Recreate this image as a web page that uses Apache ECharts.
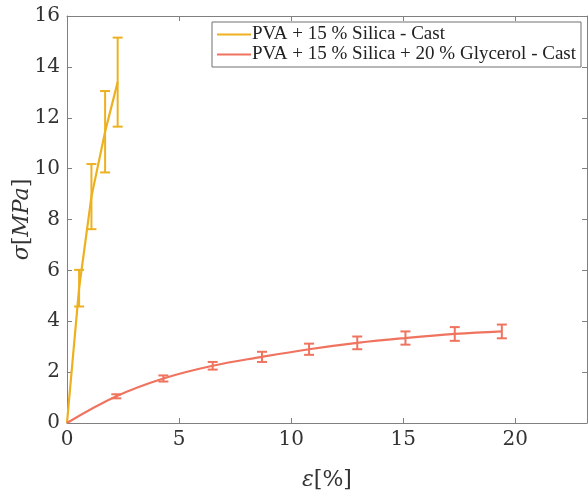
<!DOCTYPE html>
<html>
<head>
<meta charset="utf-8">
<script src="https://cdn.jsdelivr.net/npm/echarts@6/dist/echarts.min.js"></script>
<style>
  html, body { margin: 0; padding: 0; background: #fff; }
  #chart { width: 588px; height: 491px; }
</style>
</head>
<body>
<div id="chart"></div>
<script>
const nameCast = 'PVA + 15 % Silica - Cast'
const nameGly = 'PVA + 15 % Silica + 20 % Glycerol - Cast'
// strain [%], stress [MPa], error [MPa]
const castX = [0, 0.54, 1.09, 1.7, 2.26]
const castY = [0, 5.3, 8.9, 11.45, 13.4]
const castErr = [0, 0.72, 1.28, 1.6, 1.75]
const glyX = [0, 2.2, 4.3, 6.5, 8.7, 10.8, 12.95, 15.1, 17.3, 19.4]
const glyY = [0, 1.05, 1.75, 2.25, 2.6, 2.9, 3.15, 3.34, 3.5, 3.6]
const glyErr = [0, 0.08, 0.12, 0.15, 0.2, 0.22, 0.25, 0.26, 0.27, 0.27]
const xTicks = [0, 5, 10, 15, 20]
const yTicks = [0, 2, 4, 6, 8, 10, 12, 14, 16]

const yellow = '#edb120'
const red = '#ef735f'
const font = 'DejaVu Serif'
const legendFont = 'Liberation Serif'

const chart = echarts.init(document.getElementById('chart'))

function pairs(xs, ys) {
  return xs.map((x, i) => [x, ys[i]])
}
function errData(xs, ys, es) {
  const out = []
  xs.forEach((x, i) => {
    if (es[i] > 0) out.push([x, ys[i] - es[i], ys[i] + es[i]])
  })
  return out
}
function errSeries(data, color) {
  return {
    type: 'custom',
    xAxisIndex: 0,
    yAxisIndex: 0,
    data: data,
    z: 3,
    renderItem(params, api) {
      const lo = api.coord([api.value(0), api.value(1)])
      const hi = api.coord([api.value(0), api.value(2)])
      const w = 5
      const style = { stroke: color, lineWidth: 2 }
      return {
        type: 'group',
        children: [
          { type: 'line', shape: { x1: lo[0], y1: lo[1], x2: hi[0], y2: hi[1] }, style },
          { type: 'line', shape: { x1: lo[0] - w, y1: lo[1], x2: lo[0] + w, y2: lo[1] }, style },
          { type: 'line', shape: { x1: hi[0] - w, y1: hi[1], x2: hi[0] + w, y2: hi[1] }, style }
        ]
      }
    }
  }
}

const axisCommon = {
  axisLine: { show: true, onZero: false, lineStyle: { color: '#808080', width: 1 } },
  axisTick: { show: true, inside: true, length: 5, lineStyle: { color: '#808080' } },
  splitLine: { show: false }
}
const nameRich = {
  it: { fontFamily: font, fontSize: 22, fontStyle: 'italic', color: '#333' },
  up: { fontFamily: font, fontSize: 22, color: '#333' }
}

const option = {
  animation: false,
  grid: { left: 67, right: 1, top: 16, bottom: 68, outerBoundsMode: 'none' },
  legend: {
    orient: 'vertical',
    left: 212,
    top: 22,
    padding: [3, 5, 3, 5],
    itemGap: 1,
    itemWidth: 34,
    itemHeight: 2,
    borderColor: '#707070',
    borderWidth: 1,
    backgroundColor: '#fff',
    data: [
      { name: nameCast, icon: 'rect' },
      { name: nameGly, icon: 'rect' }
    ],
    textStyle: { fontFamily: legendFont, fontSize: 19, color: '#222', padding: [0, 0, 0, -4] }
  },
  xAxis: [
    Object.assign({
      type: 'value', min: 0, max: 23.2, interval: 5,
      name: '{it|ε}{up|[%]}', nameLocation: 'middle', nameGap: 46, nameMoveOverlap: false,
      nameTextStyle: { rich: nameRich },
      axisLabel: {
        fontFamily: font, fontSize: 20, color: '#333', margin: 7,
        formatter: v => (xTicks.includes(v) ? String(v) : '')
      }
    }, axisCommon),
    Object.assign({
      type: 'value', min: 0, max: 23.2, interval: 5, position: 'top',
      axisLabel: { show: false }
    }, axisCommon)
  ],
  yAxis: [
    Object.assign({
      type: 'value', min: 0, max: 16, interval: 2,
      name: '{it|σ}{up|[}{it|MPa}{up|]}', nameLocation: 'middle', nameGap: 34, nameRotate: 90,
      nameMoveOverlap: false,
      nameTextStyle: { rich: nameRich },
      axisLabel: {
        fontFamily: font, fontSize: 20, color: '#333', margin: 7,
        formatter: v => (yTicks.includes(v) ? String(v) : '')
      }
    }, axisCommon),
    Object.assign({
      type: 'value', min: 0, max: 16, interval: 2, position: 'right',
      axisLabel: { show: false }
    }, axisCommon)
  ],
  series: [
    {
      name: nameCast,
      type: 'line',
      data: pairs(castX, castY),
      showSymbol: false,
      symbol: 'none',
      color: yellow,
      lineStyle: { color: yellow, width: 2.2 },
      z: 4
    },
    {
      name: nameGly,
      type: 'line',
      data: pairs(glyX, glyY),
      smooth: 0.4,
      showSymbol: false,
      symbol: 'none',
      color: red,
      lineStyle: { color: red, width: 2.2 },
      z: 4
    },
    errSeries(errData(castX, castY, castErr), yellow),
    errSeries(errData(glyX, glyY, glyErr), red)
  ]
}
chart.setOption(option)
</script>
</body>
</html>
